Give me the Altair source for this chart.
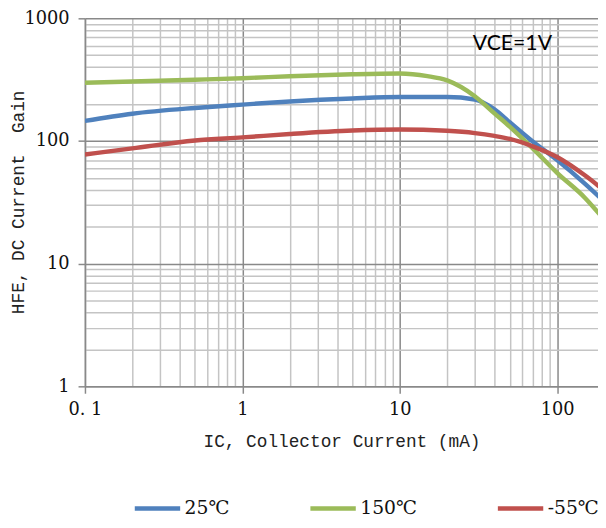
import altair as alt
import pandas as pd

# IC (mA) sample points
ic = [0.1, 0.2, 0.5, 1, 2, 5, 10, 20, 30, 40, 50, 70, 100, 150, 200]
ic_150 = [0.1, 0.2, 0.5, 1, 2, 5, 10, 15, 20, 30, 40, 50, 70, 100, 150, 200]
hfe_25 = [146, 167, 186, 198, 210, 222, 228, 228, 218, 181, 142, 99, 70, 45, 32]
hfe_150 = [298, 305, 316, 325, 337, 350, 355, 338, 312, 232, 168, 131, 87, 55, 34.5, 22.7]
hfe_m55 = [77.6, 87, 101, 107, 114, 121.7, 124, 121, 116, 110, 104, 90.5, 74, 52.5, 39.3]

series_names = ["25℃", "150℃", "-55℃"]
series_colors = ["#4f81bd", "#9bbb59", "#c0504d"]

x_ticks = [0.1, 0.2, 0.3, 0.4, 0.5, 0.6, 0.7, 0.8, 0.9,
           1, 2, 3, 4, 5, 6, 7, 8, 9,
           10, 20, 30, 40, 50, 60, 70, 80, 90, 100]
x_major = [0.1, 1, 10, 100]
y_ticks = [1, 2, 3, 4, 5, 6, 7, 8, 9,
           10, 20, 30, 40, 50, 60, 70, 80, 90,
           100, 200, 300, 400, 500, 600, 700, 800, 900, 1000]
y_major = [1, 10, 100, 1000]

annot_text = ["VCE=1V"]
annot_x = [52]
annot_y = [615]

rows = []
for name, xs, ys in [(series_names[0], ic, hfe_25),
                     (series_names[1], ic_150, hfe_150),
                     (series_names[2], ic, hfe_m55)]:
    for a, b in zip(xs, ys):
        rows.append({"ic": a, "hfe": b, "temp": name})
df = pd.DataFrame(rows)
annot = pd.DataFrame({"x": annot_x, "y": annot_y, "t": annot_text})

MAJOR = "#898989"
MINOR = "#c4c4c4"
SERIF = "DejaVu Serif"
MONO = "Liberation Mono"
NB = "\u00a0"

def major_test(vals):
    return "indexof([" + ",".join(str(v) for v in vals) + "], datum.value) >= 0"

xaxis = alt.Axis(
    values=x_ticks,
    labelExpr="datum.value == 0.1 ? '0.\u00a01' : (" + major_test(x_major) + " ? format(datum.value, 'd') : '')",
    labelOverlap=False, labelFlush=False,
    grid=True,
    gridColor={"condition": {"test": major_test(x_major), "value": MAJOR}, "value": MINOR},
    gridWidth=1.5,
    tickColor={"condition": {"test": major_test(x_major), "value": MAJOR}, "value": "transparent"},
    tickSize=7, tickWidth=1.5,
    domainColor=MAJOR, domainWidth=1.5,
    labelFont=SERIF, labelFontSize=18, labelColor="#111", labelPadding=8,
    title="IC," + NB + "Collector Current (mA)",
    titleFont=MONO, titleFontSize=18, titleFontWeight="normal", titleColor="#222",
    titleBaseline="top", titleY=47,
)
yaxis = alt.Axis(
    values=y_ticks,
    labelExpr=major_test(y_major) + " ? format(datum.value, 'd') : ''",
    labelOverlap=False, labelFlush=False,
    grid=True,
    gridColor={"condition": {"test": major_test(y_major), "value": MAJOR}, "value": MINOR},
    gridWidth=1.5,
    tickColor={"condition": {"test": major_test(y_major), "value": MAJOR}, "value": "transparent"},
    tickSize=7, tickWidth=1.5,
    domainColor=MAJOR, domainWidth=1.5,
    labelFont=SERIF, labelFontSize=18, labelColor="#111", labelPadding=9,
    title="HFE," + NB + "DC" + NB + "Current" + NB + NB + "Gain",
    titleFont=MONO, titleFontSize=18, titleFontWeight="normal", titleColor="#222",
    titleAngle=270, titleBaseline="middle", titleAlign="center",
    titleX=-67, titleY=186,
)

lines = alt.Chart(df).mark_line(strokeWidth=4.5, interpolate="monotone", clip=True).encode(
    x=alt.X("ic:Q", scale=alt.Scale(type="log", domain=[0.1, 182], nice=False), axis=xaxis),
    y=alt.Y("hfe:Q", scale=alt.Scale(type="log", domain=[1, 1000], nice=False), axis=yaxis),
    color=alt.Color("temp:N",
                    scale=alt.Scale(domain=series_names, range=series_colors),
                    sort=series_names,
                    legend=alt.Legend(
                        title=None, orient="none", direction="horizontal",
                        legendX=48, legendY=471, padding=0,
                        symbolType="stroke", symbolSize=2116, symbolStrokeWidth=4.5,
                        labelFont=SERIF, labelFontSize=19, labelColor="#111",
                        labelOffset=2, columnPadding=72,
                    )),
)

label = alt.Chart(annot).mark_text(font="Lato", fontSize=21.5, color="#000",
                                   align="center", baseline="middle").encode(
    x="x:Q", y="y:Q", text="t:N")

chart = alt.layer(lines, label).properties(
    width=520, height=373,
    autosize=alt.AutoSizeParams(type="none"),
    padding={"left": 78, "top": 7, "right": 0, "bottom": 131},
).configure_view(stroke=None)

chart.save("out.html", embed_options={"renderer": "svg", "actions": False})
